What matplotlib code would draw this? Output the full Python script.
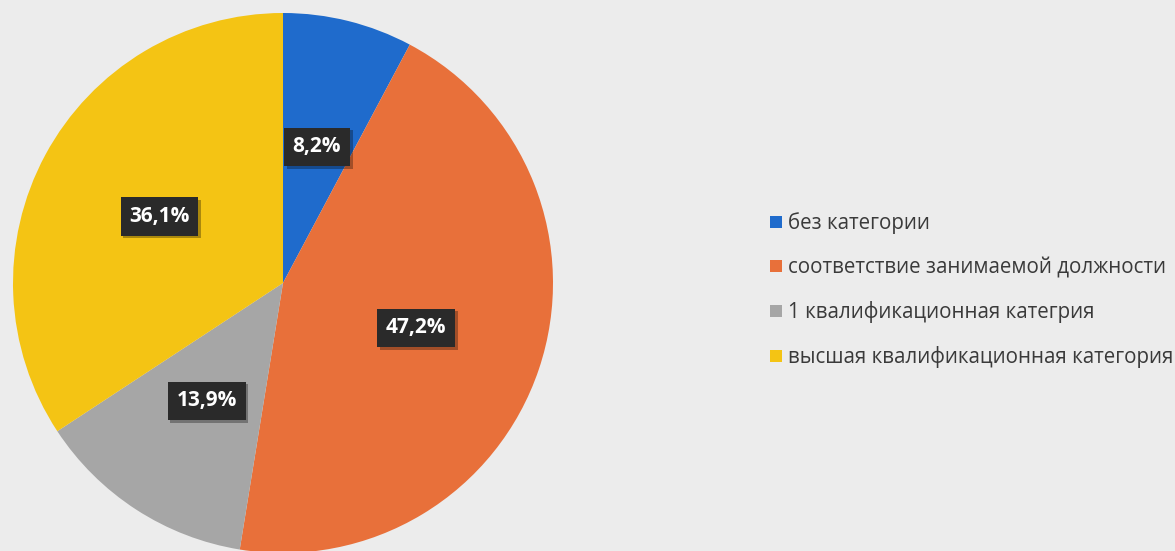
import matplotlib
matplotlib.use("Agg")
import matplotlib.pyplot as plt
import matplotlib.patheffects as pe
import numpy as np

categories = ["без категории", "соответствие занимаемой должности",
              "1 квалификационная категрия", "высшая квалификационная категория"]
values = [8.2, 47.2, 13.9, 36.1]
value_labels = ["8,2%", "47,2%", "13,9%", "36,1%"]
colors = ["#1f6bcc", "#e8703a", "#a6a6a6", "#f4c414"]

plt.rcParams['font.family'] = ['Open Sans', 'DejaVu Sans']

W, H = 1175, 551
fig = plt.figure(figsize=(W / 100, H / 100), dpi=100, facecolor="#ececec")

# pie axes: centre ~ (283, 283) px, radius ~ 270 px
cx, cy, r = 283, 283, 270
ax = fig.add_axes([(cx - r) / W, (H - cy - r) / H, 2 * r / W, 2 * r / H])
ax.set_facecolor("none")

wedges, texts = ax.pie(values, colors=colors, startangle=90, counterclock=False,
                       wedgeprops=dict(linewidth=0))
ax.set_xlim(-1, 1)
ax.set_ylim(-1, 1)
ax.set_aspect("equal")
ax.axis("off")

pct_dist = 0.52
for w, lab in zip(wedges, value_labels):
    ang = np.deg2rad((w.theta1 + w.theta2) / 2)
    x, y = pct_dist * np.cos(ang), pct_dist * np.sin(ang)
    t = ax.text(x, y, lab, ha="center", va="center", color="white",
                fontsize=15, fontweight="bold",
                bbox=dict(boxstyle="square,pad=0.42", facecolor="#2a2a2a",
                          edgecolor="none"))
    t.get_bbox_patch().set_path_effects([
        pe.SimplePatchShadow(offset=(2, -2), shadow_rgbFace="black", alpha=0.3),
        pe.Normal()])

leg = fig.legend(wedges, categories, loc="upper left",
                 bbox_to_anchor=(762 / W, 1 - 204 / H), frameon=False,
                 fontsize=14.8, handlelength=0.55, handleheight=0.55,
                 handletextpad=0.3, labelspacing=1.12, borderaxespad=0)
for txt in leg.get_texts():
    txt.set_color("#3a3a3a")

fig.savefig("out.png", dpi=100, facecolor=fig.get_facecolor())
